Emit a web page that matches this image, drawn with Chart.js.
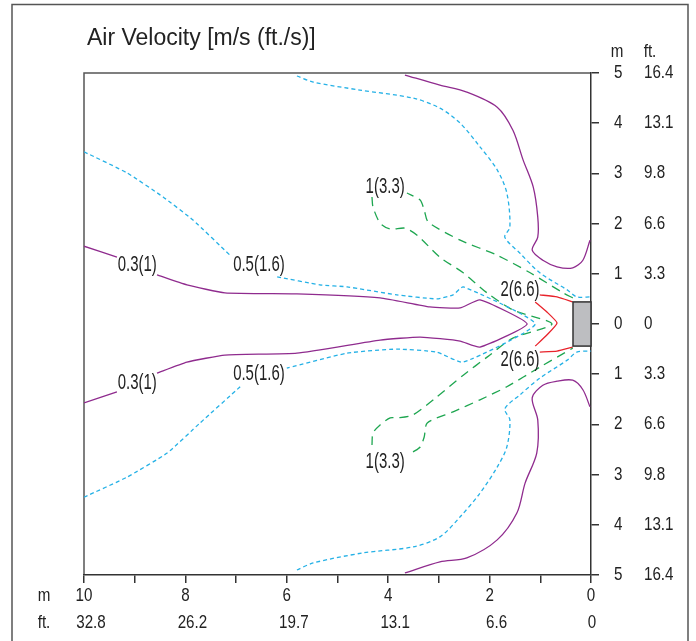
<!DOCTYPE html>
<html>
<head>
<meta charset="utf-8">
<script src="https://cdn.jsdelivr.net/npm/chart.js@4.4.1/dist/chart.umd.min.js"></script>
<style>
  html, body { margin: 0; padding: 0; background: #fff; }
  #wrap { width: 696px; height: 641px; }
</style>
</head>
<body>
<div id="wrap"><canvas id="velocityChart" width="696" height="641"></canvas></div>
<script>
// distance from outlet [m] (x) and lateral offset [m] (y, + above / - below)
const purpleOuterTop = [[3.67,4.96],[2.98,4.76],[2.45,4.62],[1.85,4.32],[1.54,3.86],[1.34,3.27],[1.14,2.73],[1.05,2.13],[1.05,1.73],[1.16,1.47],[0.95,1.27],[0.67,1.14],[0.36,1.12],[0.16,1.27],[0.02,1.67]];
const purpleOuterBottom = [[3.67,-4.96],[2.98,-4.74],[2.45,-4.66],[1.85,-4.30],[1.46,-3.76],[1.30,-3.17],[1.07,-2.57],[1.05,-1.91],[1.16,-1.47],[0.95,-1.22],[0.67,-1.14],[0.36,-1.12],[0.16,-1.31],[0.02,-1.65]];
const purpleInner = [[10,1.55],[9.35,1.33],null,[8.56,0.98],[7.97,0.78],[7.22,0.62],[5.80,0.60],[4.16,0.52],[3.18,0.34],[2.58,0.32],[2.19,0.48],[1.26,0.0],[2.19,-0.46],[2.58,-0.34],[3.37,-0.26],[4.16,-0.32],[5.80,-0.58],[7.22,-0.62],[7.97,-0.76],[8.56,-0.98],null,[9.35,-1.35],[10,-1.57]];

const cyanOuterTop = [[5.80,4.94],[5.48,4.82],[4.56,4.66],[3.51,4.50],[2.98,4.30],[2.58,4.00],[2.19,3.53],[1.85,3.07],[1.66,2.61],[1.60,1.93],[1.70,1.73],[1.40,1.41],[1.01,1.02],[0.47,0.68],[0.28,0.54],[0,0.54]];
const cyanOuterBottom = [[5.80,-4.90],[5.48,-4.76],[4.50,-4.56],[3.51,-4.44],[2.98,-4.24],[2.58,-3.84],[2.19,-3.37],[1.85,-2.85],[1.66,-2.45],[1.60,-1.91],[1.70,-1.69],[1.40,-1.41],[1.01,-1.08],[0.47,-0.72],[0.28,-0.56],[0,-0.54]];
const cyanInner = [[10,3.43],[9.15,3.01],[8.44,2.53],[7.85,2.07],[7.12,1.37],null,[6.19,0.94],[5.35,0.78],[4.81,0.74],[3.83,0.58],[3.04,0.50],[2.72,0.58],[2.52,0.74],[1.10,0.0],[2.52,-0.76],[3.04,-0.56],[3.83,-0.50],[4.81,-0.58],[6.0,-0.88],null,[6.92,-1.25],[7.71,-1.97],[8.36,-2.57],[9.15,-3.05],[10,-3.45]];

const greenContour = [[0.36,0.52],[0.55,0.62],[1.20,1.02],[1.85,1.37],[2.58,1.67],[3.21,2.03],[3.29,2.27],[3.37,2.47],[3.63,2.61],null,[4.32,2.53],[4.30,2.33],[4.16,2.01],[3.96,1.89],[3.67,1.91],[3.43,1.77],[2.98,1.33],[2.52,1.02],[2.05,0.62],[1.54,0.28],[0.77,0.0],[1.54,-0.28],[2.05,-0.66],[2.52,-1.02],[3.04,-1.45],[3.51,-1.81],[3.81,-1.87],[3.96,-1.87],[4.16,-2.01],[4.30,-2.17],[4.32,-2.41],null,[3.51,-2.55],[3.37,-2.45],[3.29,-2.25],[3.23,-1.97],[2.72,-1.75],[2.19,-1.51],[1.66,-1.25],[1.01,-0.86],[0.36,-0.48]];

const redContour = [[0.36,0.44],[0.67,0.54],[1.01,0.58],null,[1.10,0.44],[0.87,0.24],[0.67,0.02],[0.87,-0.22],[1.10,-0.44],null,[1.01,-0.56],[0.67,-0.54],[0.36,-0.46]];

// outlet (grey block)
const outletX = [0, 0.355];
const outletY = [-0.44, 0.44];

// contour labels: text and where it sits (m, m)
const labelText = ['0.3(1)', '0.3(1)', '0.5(1.6)', '0.5(1.6)', '1(3.3)', '1(3.3)', '2(6.6)', '2(6.6)'];
const labelX = [8.95, 8.95, 6.55, 6.55, 4.06, 4.06, 1.40, 1.40];
const labelY = [1.17, -1.18, 1.17, -1.00, 2.73, -2.75, 0.68, -0.72];

// tick labels
const xTicksM = [10, 8, 6, 4, 2, 0];
const xTicksFt = ['32.8', '26.2', '19.7', '13.1', '6.6', '0'];
const yTicksM = [5, 4, 3, 2, 1, 0];
const yTicksFt = ['16.4', '13.1', '9.8', '6.6', '3.3', '0'];

const FONT = '"Liberation Sans", Arial, sans-serif';
const PURPLE = '#8f2b8e', CYAN = '#25b1e6', GREEN = '#1ea650', RED = '#e8232b';

function toPoints(arr) {
    return arr.map(p => p ? { x: p[0], y: p[1] } : { x: null, y: null });
}

function contour(data, color, dash, tension) {
    return {
        data: toPoints(data),
        borderColor: color,
        borderWidth: 1.3,
        borderDash: dash,
        pointRadius: 0,
        fill: false,
        tension: tension,
        spanGaps: false
    };
}

// the original uses a condensed face, squeeze Liberation Sans horizontally
function narrowText(ctx, text, x, y, align, sx) {
    ctx.save();
    ctx.translate(x, y);
    ctx.scale(sx, 1);
    ctx.textAlign = align;
    ctx.fillText(text, 0, 0);
    ctx.restore();
}

const decorPlugin = {
    id: 'decor',
    beforeDraw(chart) {
        const ctx = chart.ctx, a = chart.chartArea;
        ctx.save();
        ctx.strokeStyle = '#555';
        ctx.lineWidth = 1.5;
        // outer frame
        ctx.beginPath();
        ctx.moveTo(12, 641); ctx.lineTo(12, 4.5); ctx.lineTo(688, 4.5); ctx.lineTo(688, 641);
        ctx.stroke();
        // plot frame top/left
        ctx.beginPath();
        ctx.moveTo(a.left, a.bottom); ctx.lineTo(a.left, a.top); ctx.lineTo(a.right, a.top);
        ctx.stroke();
        // title
        ctx.fillStyle = '#222';
        ctx.font = '23px ' + FONT;
        ctx.textBaseline = 'alphabetic';
        ctx.textAlign = 'left';
        ctx.fillText('Air Velocity [m/s (ft./s)]', 87, 45);
        ctx.restore();
    },
    afterDatasetsDraw(chart) {
        const ctx = chart.ctx, x = chart.scales.x, y = chart.scales.y;
        ctx.save();
        // outlet block
        const x0 = x.getPixelForValue(outletX[1]), x1 = x.getPixelForValue(outletX[0]);
        const y0 = y.getPixelForValue(outletY[1]), y1 = y.getPixelForValue(outletY[0]);
        ctx.fillStyle = '#bdbec1';
        ctx.strokeStyle = '#333';
        ctx.lineWidth = 1.5;
        ctx.fillRect(x0, y0, x1 - x0, y1 - y0);
        ctx.strokeRect(x0, y0, x1 - x0, y1 - y0);
        // contour labels
        ctx.fillStyle = '#222';
        ctx.font = '22px ' + FONT;
        ctx.textBaseline = 'middle';
        labelText.forEach((t, i) => {
            narrowText(ctx, t, x.getPixelForValue(labelX[i]), y.getPixelForValue(labelY[i]), 'center', 0.68);
        });
        ctx.restore();
    },
    afterDraw(chart) {
        const ctx = chart.ctx, x = chart.scales.x, y = chart.scales.y;
        ctx.save();
        ctx.fillStyle = '#222';
        ctx.font = '18.5px ' + FONT;
        ctx.textBaseline = 'middle';
        const rowM = x.top + 21, rowFt = x.top + 48;
        x.ticks.forEach(t => {
            const i = xTicksM.indexOf(t.value);
            if (i < 0) return;
            const px = x.getPixelForValue(t.value);
            narrowText(ctx, String(t.value), px, rowM, 'center', 0.82);
            narrowText(ctx, xTicksFt[i], px + (xTicksFt[i].length > 1 ? 7 : 1), rowFt, 'center', 0.82);
        });
        y.ticks.forEach(t => {
            const i = yTicksM.indexOf(Math.abs(t.value));
            if (i < 0) return;
            const py = y.getPixelForValue(t.value);
            narrowText(ctx, String(Math.abs(t.value)), y.left + 23, py, 'left', 0.82);
            narrowText(ctx, yTicksFt[i], y.left + 53, py, 'left', 0.82);
        });
        // unit captions
        narrowText(ctx, 'm', y.left + 26, chart.chartArea.top - 21, 'center', 0.82);
        narrowText(ctx, 'ft.', y.left + 59, chart.chartArea.top - 21, 'center', 0.82);
        narrowText(ctx, 'm', 44, rowM, 'center', 0.82);
        narrowText(ctx, 'ft.', 44, rowFt, 'center', 0.82);
        ctx.restore();
    }
};

new Chart(document.getElementById('velocityChart').getContext('2d'), {
    type: 'line',
    data: {
        datasets: [
            contour(purpleOuterTop, PURPLE, [], 0.3),
            contour(purpleOuterBottom, PURPLE, [], 0.3),
            contour(purpleInner, PURPLE, [], 0.15),
            contour(cyanOuterTop, CYAN, [4, 3], 0.3),
            contour(cyanOuterBottom, CYAN, [4, 3], 0.3),
            contour(cyanInner, CYAN, [4, 3], 0.15),
            contour(greenContour, GREEN, [9, 6], 0.25),
            contour(redContour, RED, [], 0.15)
        ]
    },
    options: {
        responsive: false,
        animation: false,
        layout: { padding: { left: 84, top: 73, right: 0, bottom: 0 } },
        plugins: { legend: { display: false }, tooltip: { enabled: false }, title: { display: false } },
        scales: {
            x: {
                type: 'linear', position: 'bottom', min: 0, max: 10, reverse: true,
                afterFit: s => { s.height = 66; },
                border: { color: '#333', width: 1.5 },
                grid: { drawOnChartArea: false, drawTicks: true, tickLength: 8, color: '#333', lineWidth: 1.5 },
                ticks: { stepSize: 1, autoSkip: false, display: false }
            },
            y: {
                type: 'linear', position: 'right', min: -5, max: 5,
                afterFit: s => { s.width = 105; },
                border: { color: '#333', width: 1.5 },
                grid: { drawOnChartArea: false, drawTicks: true, tickLength: 8, color: '#333', lineWidth: 1.5 },
                ticks: { stepSize: 1, autoSkip: false, display: false }
            }
        }
    },
    plugins: [decorPlugin]
});
</script>
</body>
</html>
